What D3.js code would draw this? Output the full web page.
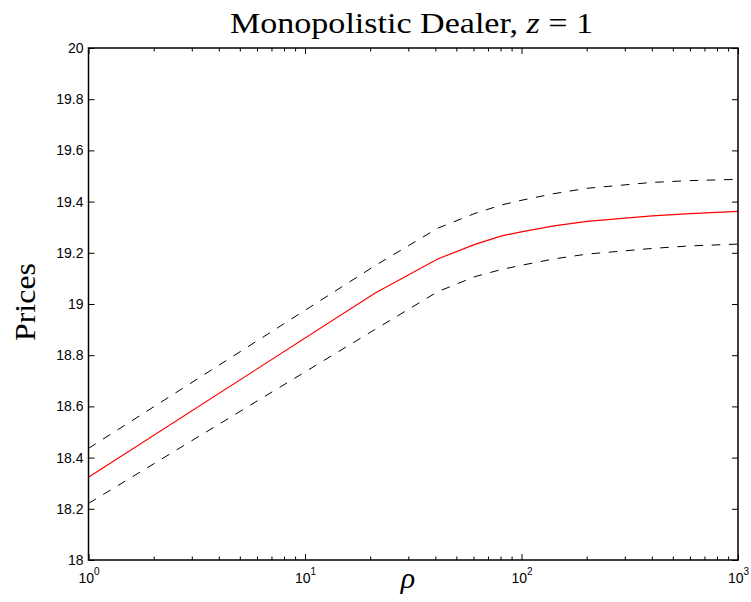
<!DOCTYPE html>
<html>
<head>
<meta charset="utf-8">
<script src="https://cdn.jsdelivr.net/npm/d3@7"></script>
<style>
    body { margin: 0; background: #fff; }
</style>
</head>
<body>
<svg id="chart" width="751" height="602"></svg>
<script>
var rho = [1, 21, 41, 61, 81, 101, 141, 201, 401, 601, 1000];
// expected price (red) and the two dashed bands
var price = [18.323, 19.042, 19.176, 19.233, 19.266, 19.283, 19.305, 19.323, 19.344, 19.353, 19.362];
var upper = [18.436, 19.149, 19.296, 19.354, 19.387, 19.406, 19.431, 19.452, 19.475, 19.482, 19.487];
var lower = [18.221, 18.900, 19.048, 19.107, 19.135, 19.152, 19.176, 19.195, 19.217, 19.227, 19.234];

var yTicks = [18, 18.2, 18.4, 18.6, 18.8, 19, 19.2, 19.4, 19.6, 19.8, 20];
var xMajor = [1, 10, 100, 1000];

var plotLeft = 88.5, plotRight = 738, plotTop = 48, plotBottom = 560;
var labelFont = "'Liberation Sans', Arial, sans-serif";
var serifFont = "'Liberation Serif', 'Times New Roman', serif";

var svg = d3.select("#chart");

var x = d3.scaleLog().domain([1, 1000]).range([plotLeft, plotRight]);
var y = d3.scaleLinear().domain([18, 20]).range([plotBottom, plotTop]);

// minor ticks 2..9 of each decade
function getMinorTicks() {
    var ticks = [];
    for (var d = 0; d < xMajor.length - 1; d++) {
        for (var k = 2; k <= 9; k++) {
            ticks.push(xMajor[d] * k);
        }
    }
    return ticks;
}
var xMinor = getMinorTicks();

// lines first, axes on top
var line = d3.line()
    .x(function (d) { return x(d[0]); })
    .y(function (d) { return y(d[1]); });

function series(values) {
    return rho.map(function (r, i) { return [r, values[i]]; });
}

function drawDashed(values) {
    svg.append("path")
        .attr("d", line(series(values)))
        .attr("fill", "none")
        .attr("stroke", "#000")
        .attr("stroke-width", 1)
        .attr("stroke-dasharray", "8.6,8.6");
}
drawDashed(upper);
drawDashed(lower);

svg.append("path")
    .attr("d", line(series(price)))
    .attr("fill", "none")
    .attr("stroke", "#ff0000")
    .attr("stroke-width", 1.2);

function noDomain(g) {
    g.select(".domain").remove();
}

// y axis left with labels, right mirrored without
svg.append("g")
    .attr("transform", "translate(" + plotLeft + ",0)")
    .call(d3.axisLeft(y).tickValues(yTicks).tickSize(-6).tickPadding(5)
        .tickFormat(function (d) { return String(+d.toFixed(1)); }))
    .call(noDomain);

svg.append("g")
    .attr("transform", "translate(" + plotRight + ",0)")
    .call(d3.axisRight(y).tickValues(yTicks).tickSize(-6).tickFormat(""))
    .call(noDomain);

// x axis: minor + major, bottom and top
svg.append("g")
    .attr("transform", "translate(0," + plotBottom + ")")
    .call(d3.axisBottom(x).tickValues(xMinor).tickSize(-3.5).tickFormat(""))
    .call(noDomain);

svg.append("g")
    .attr("transform", "translate(0," + plotTop + ")")
    .call(d3.axisTop(x).tickValues(xMinor).tickSize(-3.5).tickFormat(""))
    .call(noDomain);

var xAxisBottom = svg.append("g")
    .attr("transform", "translate(0," + plotBottom + ")")
    .call(d3.axisBottom(x).tickValues(xMajor).tickSize(-6).tickFormat(""))
    .call(noDomain);

svg.append("g")
    .attr("transform", "translate(0," + plotTop + ")")
    .call(d3.axisTop(x).tickValues(xMajor).tickSize(-6).tickFormat(""))
    .call(noDomain);

// 10^n labels
xAxisBottom.selectAll(".tick").append("text")
    .attr("y", 23)
    .attr("text-anchor", "middle")
    .attr("fill", "#000")
    .each(function (d) {
        var t = d3.select(this);
        t.append("tspan").text("10");
        t.append("tspan")
            .attr("dy", -8)
            .style("font-size", "10px")
            .text(Math.round(Math.log10(d)));
    });

svg.selectAll(".tick text")
    .style("font-family", labelFont)
    .style("font-size", "14px")
    .attr("fill", "#000");
svg.selectAll(".tick line").attr("stroke", "#000").attr("stroke-width", 1);

// frame
svg.append("rect")
    .attr("x", plotLeft)
    .attr("y", plotTop)
    .attr("width", plotRight - plotLeft)
    .attr("height", plotBottom - plotTop)
    .attr("fill", "none")
    .attr("stroke", "#000")
    .attr("stroke-width", 1.5);

// title and axis labels
var title = svg.append("text")
    .attr("x", 411.5)
    .attr("y", 33)
    .attr("text-anchor", "middle")
    .attr("textLength", 363)
    .attr("lengthAdjust", "spacingAndGlyphs")
    .style("font-family", serifFont)
    .style("font-size", "30px");
title.append("tspan").text("Monopolistic Dealer, ");
title.append("tspan").style("font-style", "italic").text("z");
title.append("tspan").text(" = 1");

svg.append("text")
    .attr("transform", "translate(35,302) rotate(-90)")
    .attr("text-anchor", "middle")
    .attr("textLength", 78)
    .attr("lengthAdjust", "spacingAndGlyphs")
    .style("font-family", serifFont)
    .style("font-size", "30px")
    .text("Prices");

svg.append("text")
    .attr("x", 408)
    .attr("y", 588)
    .attr("text-anchor", "middle")
    .style("font-family", serifFont)
    .style("font-style", "italic")
    .style("font-size", "30px")
    .text("ρ");
</script>
</body>
</html>
